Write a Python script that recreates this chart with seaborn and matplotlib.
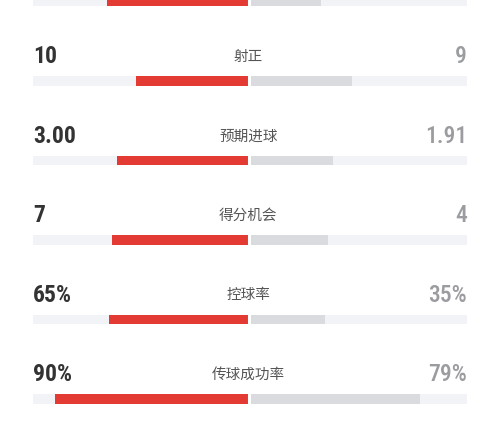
import matplotlib
matplotlib.use("Agg")
import matplotlib.pyplot as plt
import seaborn as sns
import pandas as pd

# --- data ---
labels = ["", "射正", "预期进球", "得分机会", "控球率", "传球成功率"]
home_text = ["", "10", "3.00", "7", "65%", "90%"]
away_text = ["", "9", "1.91", "4", "35%", "79%"]
# bar length as a share of the half track
home_share = [0.66, 0.526, 0.611, 0.636, 0.65, 0.90]
away_share = [0.33, 0.474, 0.389, 0.364, 0.35, 0.79]

RED = "#e33b34"
GREY = "#d9dbdf"
TRACK = "#f1f3f6"

sns.set_theme(style="white")
plt.rcParams["font.family"] = ["Noto Sans CJK SC", "DejaVu Sans"]

n = len(labels)
df = pd.DataFrame({
    "row": list(range(n)),
    "home": [-v for v in home_share],
    "away": away_share,
    "track_l": [-1.003] * n,
    "track_r": [1.007] * n,
})

fig = plt.figure(figsize=(5, 4.4), dpi=100)
ax = fig.add_axes([0, 0, 1, 1])

bw = 0.12
for col, c in [("track_l", TRACK), ("track_r", TRACK), ("home", RED), ("away", GREY)]:
    sns.barplot(data=df, x=col, y="row", orient="h", color=c,
                width=bw, saturation=1, linewidth=0, ax=ax)
ax.axvline(0, color="white", lw=2.2, zorder=5)

num_font = ["Roboto Condensed", "Roboto", "DejaVu Sans"]
for i in range(n):
    ty = i - 0.302
    if home_text[i]:
        ax.text(-1.003, ty, home_text[i], ha="left", va="center",
                fontsize=17, color="#333333", family=num_font,
                fontweight="bold", zorder=10)
    if away_text[i]:
        ax.text(1.007, ty, away_text[i], ha="right", va="center",
                fontsize=17, color="#9a9ca0", family=num_font,
                fontweight="medium", zorder=10)
    if labels[i]:
        ax.text(-0.005, ty, labels[i], ha="center", va="center",
                fontsize=10.5, color="#555555", zorder=10,
                family=["Noto Sans CJK SC", "DejaVu Sans"])

ax.set_xlim(-1.155, 1.160)
ax.set_ylim(5.516, -0.019)
ax.set_axis_off()

fig.savefig("out.png", dpi=100, facecolor="white")
